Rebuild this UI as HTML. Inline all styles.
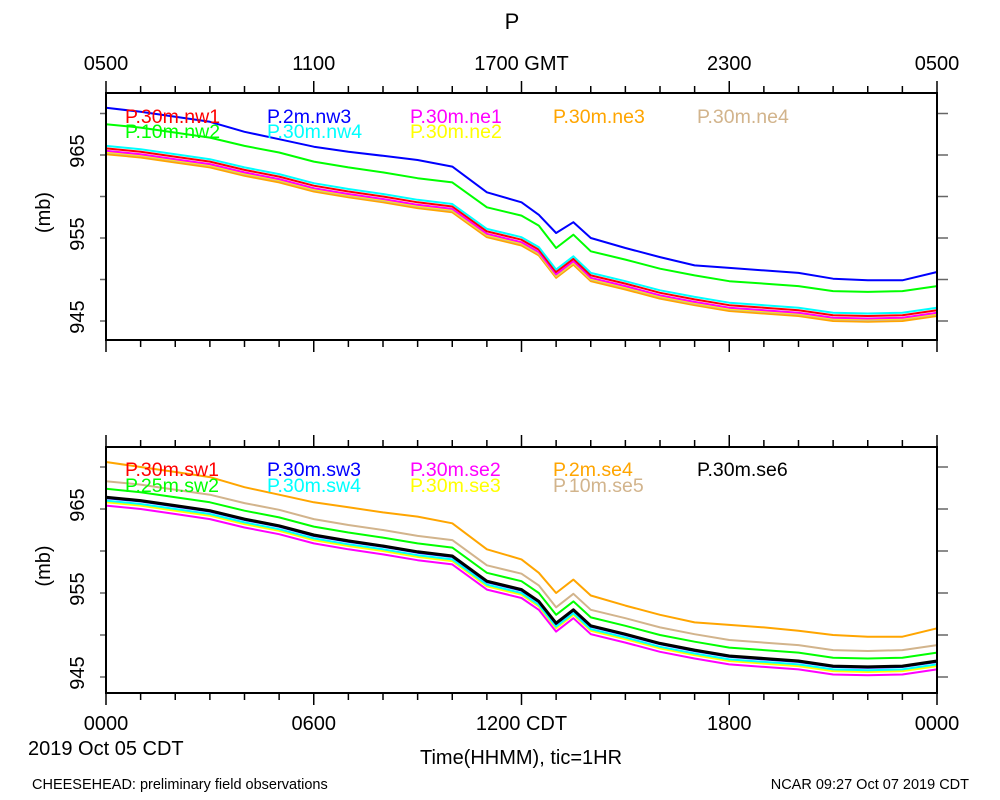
<!DOCTYPE html>
<html><head><meta charset="utf-8"><style>
body{margin:0;background:#fff;}
svg{display:block;font-family:"Liberation Sans",sans-serif;}
</style></head><body>
<svg id="chart" width="1000" height="800" xmlns="http://www.w3.org/2000/svg"></svg>
<script>
// ---- data ----
const hours = [0,1,2,3,4,5,6,7,8,9,10,11,12,12.5,13,13.5,14,15,16,17,18,19,20,21,22,23,24];
// top panel cluster base (P.30m.nw1)
const topBase = [965.8,965.4,964.8,964.2,963.2,962.4,961.3,960.6,960.0,959.3,958.8,955.8,954.8,953.6,950.9,952.5,950.5,949.5,948.4,947.6,946.9,946.6,946.3,945.7,945.6,945.7,946.3];
// P.2m.nw3
const topBlue = [970.7,970.2,969.6,969.0,967.8,966.9,966.0,965.4,964.9,964.4,963.6,960.5,959.3,957.8,955.6,956.9,955.0,953.8,952.7,951.7,951.4,951.1,950.8,950.1,949.9,949.9,950.9];
const topNames = ["P.30m.nw1","P.2m.nw3","P.30m.ne1","P.30m.ne3","P.30m.ne4","P.10m.nw2","P.30m.nw4","P.30m.ne2"];
const topColors = ["#ff0000","#0000ff","#ff00ff","#ffa500","#d2b48c","#00ff00","#00ffff","#ffff00"];
const topOffsets = [0, null, -0.3, -0.7, -0.5, 2.9, 0.3, -0.4];
// bottom panel base (P.30m.se6)
const botBase = [966.4,966.0,965.4,964.8,963.8,963.0,961.9,961.2,960.6,959.9,959.4,956.4,955.4,954.0,951.4,953.0,951.1,950.1,949.0,948.2,947.5,947.2,946.9,946.3,946.2,946.3,946.9];
// P.2m.se4
const botOrange = [970.6,970.0,969.4,968.8,967.6,966.7,965.8,965.2,964.6,964.1,963.3,960.2,959.0,957.4,955.0,956.6,954.7,953.5,952.4,951.5,951.2,950.9,950.5,950.0,949.8,949.8,950.8];
const botNames = ["P.30m.sw1","P.30m.sw3","P.30m.se2","P.2m.se4","P.30m.se6","P.25m.sw2","P.30m.sw4","P.30m.se3","P.10m.se5"];
const botColors = ["#ff0000","#0000ff","#ff00ff","#ffa500","#000000","#00ff00","#00ffff","#ffff00","#d2b48c"];
const botOffsets = [0, -0.1, -1.0, null, 0, 1.0, -0.4, -0.6, 1.9];
const topTicks = ["0500","1100","1700 GMT","2300","0500"];
const botTicks = ["0000","0600","1200 CDT","1800","0000"];
const yTicks = [945,955,965];

// ---- drawing ----
const NS="http://www.w3.org/2000/svg";
const svg=document.getElementById('chart');
function mk(tag,attrs,parent){const e=document.createElementNS(NS,tag);for(const k in attrs)e.setAttribute(k,attrs[k]);(parent||svg).appendChild(e);return e;}
const X0=106,X1=937;
function xs(h){return X0+(X1-X0)*h/24;}
function makeY(y965,y945){return v=>y965+(965-v)*(y945-y965)/20;}
const panels=[
 {top:93,bot:340,y:makeY(155,321),ticksTop:topTicks,ticksBot:null,name:"top-panel"},
 {top:447,bot:693,y:makeY(509,677),ticksTop:null,ticksBot:botTicks,name:"bottom-panel"}
];
function text(str,x,y,attrs){const t=mk('text',Object.assign({x:x,y:y},attrs||{}));t.textContent=str;return t;}

function drawAxes(p){
  const g=mk('g',{});
  
  
  for(let h=0;h<=24;h++){
    const x=xs(h), len=(h%6===0)?12:7;
    mk('line',{x1:x,y1:p.top,x2:x,y2:p.top-len,stroke:'#000','stroke-width':1.5},g);
    mk('line',{x1:x,y1:p.bot,x2:x,y2:p.bot+len,stroke:'#000','stroke-width':1.5},g);
  }
  for(let v=945;v<=970;v+=5){
    const y=p.y(v); if(y<p.top||y>p.bot) continue;
    mk('line',{x1:X0,y1:y,x2:X0-6,y2:y,stroke:'#666','stroke-width':1.5},g);
    mk('line',{x1:X1,y1:y,x2:X1+11,y2:y,stroke:'#666','stroke-width':1.5},g);
  }
  yTicks.forEach(v=>{
    const y=p.y(v)-4;
    const t=text(String(v),84,y,{'font-size':20,'text-anchor':'middle',transform:`rotate(-90 84 ${y})`});
    
    
  });
  const yc=(p.top+p.bot)/2-4;
  const yl=text('(mb)',50,yc,{'font-size':20,'text-anchor':'middle',transform:`rotate(-90 50 ${yc})`});
  
  
  if(p.ticksTop) p.ticksTop.forEach((s,i)=>{const t=text(s,xs(i*6),70,{'font-size':20,'text-anchor':'middle'});
    
    });
  if(p.ticksBot) p.ticksBot.forEach((s,i)=>{const t=text(s,xs(i*6),730,{'font-size':20,'text-anchor':'middle'});
    
    });
}
function line(vals,p,color,w,name){
  const d=vals.map((v,i)=>(i?'L':'M')+xs(hours[i]).toFixed(1)+' '+p.y(v).toFixed(1)).join(' ');
  const e=mk('path',{d:d,fill:'none',stroke:color,'stroke-width':w,'stroke-linejoin':'round'});
  
  
}
function drawFrame(p){
  const r=mk('rect',{x:X0,y:p.top,width:X1-X0,height:p.bot-p.top,fill:'none',stroke:'#000','stroke-width':2});
  
  
}
// top panel
drawAxes(panels[0]);
const topOrder=[3,4,7,2,0,6,5,1];
topOrder.forEach(i=>{
  const vals = topOffsets[i]===null ? topBlue : topBase.map(v=>v+topOffsets[i]);
  line(vals,panels[0],topColors[i],2,'series-'+topNames[i]);
});
drawFrame(panels[0]);
// bottom panel
drawAxes(panels[1]);
const botOrder=[3,8,5,2,7,6,0,1,4];
botOrder.forEach(i=>{
  const vals = botOffsets[i]===null ? botOrange : botBase.map(v=>v+botOffsets[i]);
  line(vals,panels[1],botColors[i],botNames[i]==="P.30m.se6"?3:2,'series-'+botNames[i]);
});
drawFrame(panels[1]);
// legends
const legX=[125,267,410,553,697];
(function(){
  const r1=[0,1,2,3,4], r2=[5,6,7];
  r1.forEach((i,k)=>{const t=text(topNames[i],legX[k],123,{'font-size':19.5,fill:topColors[i]});
    
    });
  r2.forEach((i,k)=>{const t=text(topNames[i],legX[k],138,{'font-size':19.5,fill:topColors[i]});
    
    });
  const b1=[0,1,2,3,4], b2=[5,6,7,8];
  b1.forEach((i,k)=>{const t=text(botNames[i],legX[k],476,{'font-size':19.5,fill:botColors[i]});
    
    });
  b2.forEach((i,k)=>{const t=text(botNames[i],legX[k],492,{'font-size':19.5,fill:botColors[i]});
    
    });
})();
// titles
let t;
t=text('P',512,29,{'font-size':22,'text-anchor':'middle'});


t=text('2019 Oct 05 CDT',28,755,{'font-size':20});


t=text('Time(HHMM), tic=1HR',521,764,{'font-size':20,'text-anchor':'middle'});


t=text('CHEESEHEAD: preliminary field observations',32,789,{'font-size':14.5});


t=text('NCAR 09:27 Oct 07 2019 CDT',969,789,{'font-size':14.5,'text-anchor':'end'});


</script>
</body></html>
